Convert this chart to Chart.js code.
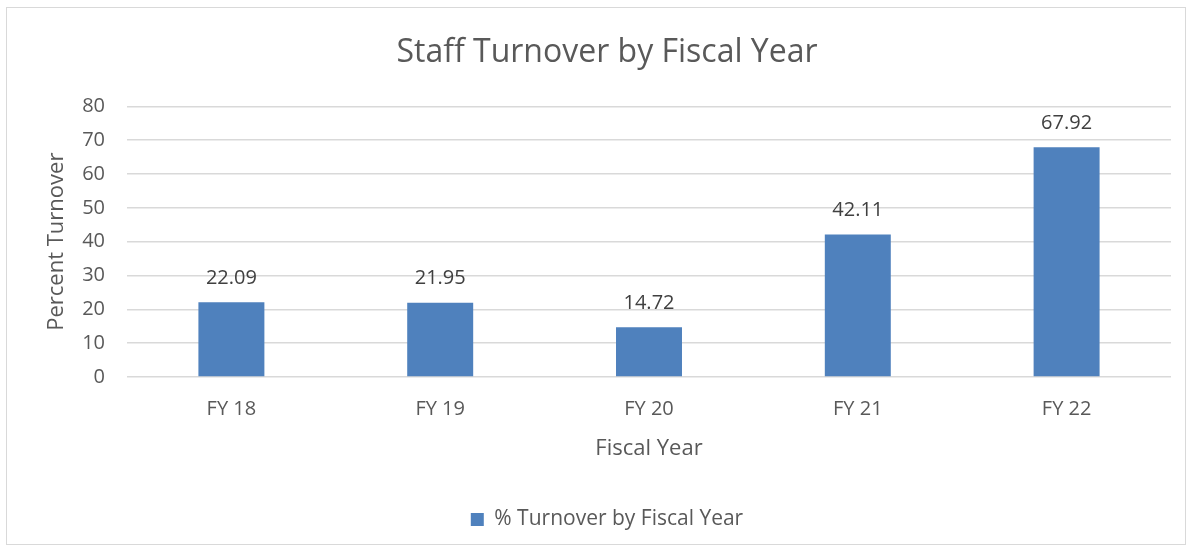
<!DOCTYPE html>
<html>
<head>
<meta charset="utf-8">
<script src="https://cdn.jsdelivr.net/npm/chart.js@4"></script>
<style>
  html, body { margin: 0; padding: 0; background: #fff; }
  #wrap {
    position: absolute; left: 6px; top: 7px;
    width: 1180px; height: 538px;
    border: 1.5px solid #d9d9d9;
    box-sizing: border-box;
  }
  canvas { display: block; }
</style>
</head>
<body>
<div id="wrap"><canvas id="chart"></canvas></div>
<script>
// chart values
const categories = ['FY 18', 'FY 19', 'FY 20', 'FY 21', 'FY 22'];
const turnover = [22.09, 21.95, 14.72, 42.11, 67.92];
const yTicks = [0, 10, 20, 30, 40, 50, 60, 70, 80];

const FONT = "'Open Sans', 'Noto Sans', sans-serif";
const TEXT = '#595959';

// value labels above each bar
const barLabels = {
  id: 'barLabels',
  afterDatasetsDraw(chart) {
    const ctx = chart.ctx;
    const meta = chart.getDatasetMeta(0);
    ctx.save();
    ctx.font = '20px ' + FONT;
    ctx.fillStyle = '#404040';
    ctx.textAlign = 'center';
    ctx.textBaseline = 'middle';
    meta.data.forEach((bar, i) => {
      ctx.fillText(turnover[i].toFixed(2), bar.x, bar.y - 24);
    });
    ctx.restore();
  }
};

new Chart(document.getElementById('chart'), {
  type: 'bar',
  data: {
    labels: categories,
    datasets: [{
      label: '% Turnover by Fiscal Year',
      data: turnover,
      backgroundColor: '#4f81bd',
      borderWidth: 0,
      categoryPercentage: 1,
      barPercentage: 0.316
    }]
  },
  options: {
    responsive: true,
    maintainAspectRatio: false,
    animation: false,
    layout: {
      padding: { left: 36, right: 14, top: 0, bottom: 4 }
    },
    scales: {
      y: {
        min: 0,
        max: 80,
        afterBuildTicks(scale) {
          scale.ticks = yTicks.map(v => ({ value: v }));
        },
        afterFit(scale) { scale.width = 84; },
        border: { display: false },
        grid: { color: '#d9d9d9', lineWidth: 1.5, drawTicks: false },
        ticks: { color: TEXT, font: { family: FONT, size: 20 }, padding: 22 },
        title: {
          display: true,
          text: 'Percent Turnover',
          color: TEXT,
          font: { family: FONT, size: 22 },
          padding: { top: 1, bottom: 0 }
        }
      },
      x: {
        afterFit(scale) { scale.height = 122; },
        border: { display: false },
        grid: { display: false, drawTicks: false },
        ticks: { color: TEXT, font: { family: FONT, size: 20 }, padding: 20 },
        title: {
          display: true,
          text: 'Fiscal Year',
          color: TEXT,
          font: { family: FONT, size: 22 },
          padding: { top: 0, bottom: 37 }
        }
      }
    },
    plugins: {
      title: {
        display: true,
        text: 'Staff Turnover by Fiscal Year',
        color: TEXT,
        font: { family: FONT, size: 32, weight: 'normal' },
        padding: { top: 26, bottom: 34 }
      },
      legend: {
        position: 'bottom',
        labels: {
          color: TEXT,
          font: { family: FONT, size: 21 },
          boxWidth: 13,
          boxHeight: 13,
          padding: 10
        }
      },
      tooltip: { enabled: false }
    }
  },
  plugins: [barLabels]
});
</script>
</body>
</html>
